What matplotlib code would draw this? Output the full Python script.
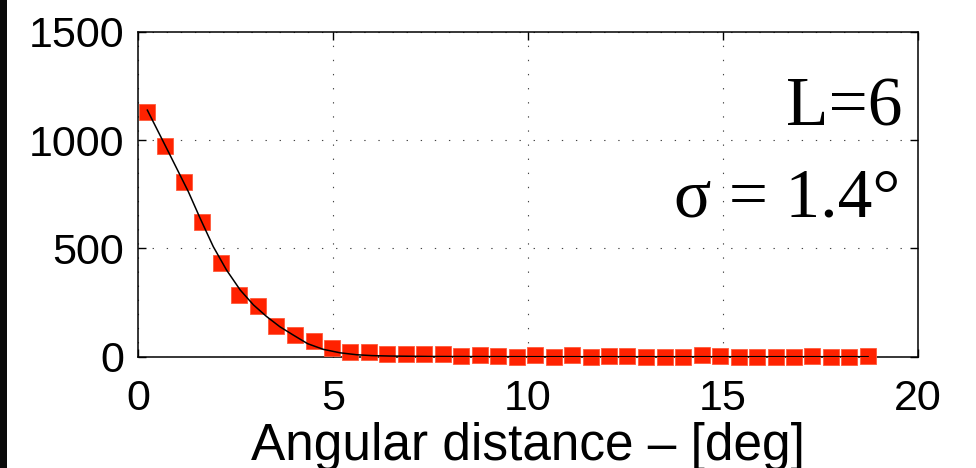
import numpy as np
import matplotlib
matplotlib.use("Agg")
import matplotlib.pyplot as plt
from matplotlib.patches import Rectangle

# binned counts vs angular distance (deg)
dist = [0.23, 0.70, 1.18, 1.65, 2.13, 2.60, 3.07, 3.55, 4.02, 4.50,
        4.97, 5.44, 5.92, 6.39, 6.87, 7.34, 7.81, 8.29, 8.76, 9.24,
        9.71, 10.18, 10.66, 11.13, 11.61, 12.08, 12.55, 13.03, 13.50, 13.98,
        14.45, 14.92, 15.40, 15.87, 16.35, 16.82, 17.29, 17.77, 18.24, 18.72]
counts = [1131, 974, 805, 624, 434, 283, 235, 142, 101, 74,
          39, 23, 20, 11, 12, 11, 11, 3, 6, 2,
          0, 6, 0, 6, 0, 3, 3, 0, 0, 0,
          6, 3, 0, 0, 0, 0, 3, 0, 0, 3]

# fitted profile
fit_x = [0.24, 0.82, 1.29, 1.59, 1.93, 2.27, 2.62, 2.96, 3.30, 3.64,
         3.98, 4.35, 4.75, 5.18, 5.61, 6.00, 6.46, 7.50, 10.0, 18.72]
fit_y = [1138, 931, 762, 640, 508, 400, 308, 239, 185, 138,
         100, 60, 34, 18, 9, 5, 3, 1, 0, 0]

xticks = [0, 5, 10, 15, 20]
yticks = [0, 500, 1000, 1500]

sans = ["Liberation Sans", "DejaVu Sans"]
serif = ["Liberation Serif", "DejaVu Serif"]

fig = plt.figure(figsize=(9.76, 4.68), dpi=100)
fig.patch.set_facecolor("white")
fig.patches.append(Rectangle((0, 0), 6.5 / 976, 1, transform=fig.transFigure,
                             facecolor="#0a0a0a", edgecolor="none"))

ax = fig.add_axes([138 / 976, 1 - 356.7 / 468, 780 / 976, 325 / 468])

ax.plot(dist, counts, ls="none", marker="s", ms=11, mfc="#ff2200",
        mec="#ff5a3a", mew=0.6, zorder=3, clip_on=False)
ax.plot(fit_x, fit_y, color="black", lw=1.1, zorder=4)

ax.set_xlim(0, 20)
ax.set_ylim(0, 1500)
ax.set_xticks(xticks)
ax.set_yticks(yticks)

ax.grid(True, color="#444444", lw=0.8, linestyle=(0, (1.2, 11.5)))
ax.tick_params(direction="in", length=6, width=1, top=True, right=True,
               labelsize=31, pad=10)
ax.tick_params(axis="x", pad=16)
for lab in ax.get_xticklabels() + ax.get_yticklabels():
    lab.set_family(sans)
for sp in ax.spines.values():
    sp.set_linewidth(1.1)

ax.set_xlabel("Angular distance \u2013 [deg]", fontsize=37, family=sans,
              labelpad=2)

ax.text(19.6, 1069, "L=6", ha="right", va="baseline", fontsize=50,
        family=serif)
ax.text(19.55, 645, "\u03c3 = 1.4\u00b0", ha="right", va="baseline",
        fontsize=50, family=serif)

fig.savefig("out.png", dpi=100)
